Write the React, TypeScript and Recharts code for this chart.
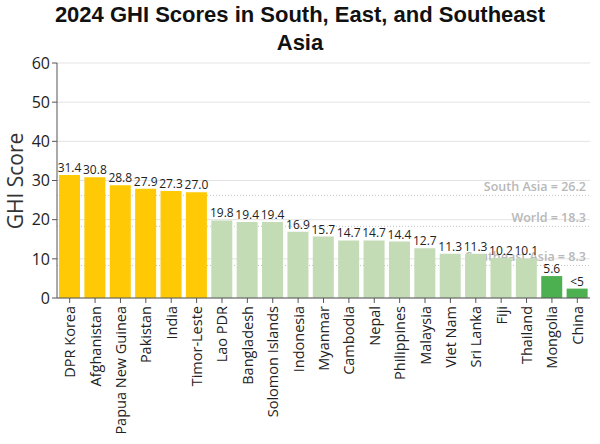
import React from "react";
import { BarChart, Bar, XAxis, YAxis, CartesianGrid, ReferenceLine, LabelList, Cell } from "recharts";

const countries = [
  "DPR Korea", "Afghanistan", "Papua New Guinea", "Pakistan", "India", "Timor-Leste",
  "Lao PDR", "Bangladesh", "Solomon Islands", "Indonesia", "Myanmar", "Cambodia", "Nepal",
  "Philippines", "Malaysia", "Viet Nam", "Sri Lanka", "Fiji", "Thailand", "Mongolia", "China",
];
const scores = [31.4, 30.8, 28.8, 27.9, 27.3, 27.0, 19.8, 19.4, 19.4, 16.9, 15.7, 14.7, 14.7, 14.4, 12.7, 11.3, 11.3, 10.2, 10.1, 5.6, 2.4];
const scoreLabels = ["31.4", "30.8", "28.8", "27.9", "27.3", "27.0", "19.8", "19.4", "19.4", "16.9", "15.7", "14.7", "14.7", "14.4", "12.7", "11.3", "11.3", "10.2", "10.1", "5.6", "<5"];
const tiers = ["serious", "serious", "serious", "serious", "serious", "serious",
  "moderate", "moderate", "moderate", "moderate", "moderate", "moderate", "moderate",
  "moderate", "moderate", "moderate", "moderate", "moderate", "moderate", "low", "low"];
const yTicks = [0, 10, 20, 30, 40, 50, 60];
const refNames = ["South Asia", "World", "Southeast Asia"];
const refValues = [26.2, 18.3, 8.3];

const tierColor: Record<string, string> = {
  serious: "#ffc905",
  moderate: "#c3dcb6",
  low: "#4caf50",
};

const data = countries.map((name, i) => ({ name, score: scores[i], label: scoreLabels[i], tier: tiers[i] }));

const CountryTick = (props: any) => {
  const { x, y, payload } = props;
  return (
    <text
      x={x}
      y={y + 1}
      transform={`rotate(-90, ${x}, ${y + 1})`}
      textAnchor="end"
      dominantBaseline="central"
      fontFamily="'Open Sans', sans-serif"
      fontSize={14.5}
      fill="#222"
    >
      {payload.value}
    </text>
  );
};

const refLabel = (i: number) => ({
  value: `${refNames[i]} = ${refValues[i]}`,
  position: "insideBottomRight",
  offset: 4,
  fill: "#b8b8b8",
  fontSize: 12.5,
  fontWeight: 600,
  fontFamily: "'Open Sans', sans-serif",
  zIndex: 0,
});

export default function App() {
  return (
    <div style={{ position: "fixed", left: 0, top: 0, width: 600, height: 444, background: "#fff" }}>
      <div
        style={{
          position: "absolute",
          left: 0,
          top: 1,
          width: 600,
          textAlign: "center",
          fontFamily: "'Liberation Sans', Arial, sans-serif",
          fontWeight: "bold",
          fontSize: 22,
          lineHeight: "28px",
          color: "#111",
        }}
      >
        2024 GHI Scores in South, East, and Southeast
        <br />
        Asia
      </div>
      <div
        style={{
          position: "absolute",
          left: 15,
          top: 181,
          transform: "translate(-50%, -50%) rotate(-90deg)",
          fontFamily: "'Open Sans', sans-serif",
          fontSize: 21,
          color: "#333",
          whiteSpace: "nowrap",
        }}
      >
        GHI Score
      </div>
      <BarChart
        width={600}
        height={444}
        data={data}
        margin={{ top: 63, right: 10, left: 0, bottom: 0 }}
        barCategoryGap={2}
      >
        <CartesianGrid vertical={false} stroke="#e3e3e3" />
        {refValues.map((v, i) => (
          <ReferenceLine
            key={refNames[i]}
            y={v}
            stroke="#c4c4c4"
            strokeDasharray="1 2"
            zIndex={0}
            label={refLabel(i) as any}
          />
        ))}
        <XAxis
          dataKey="name"
          interval={0}
          tick={<CountryTick />}
          tickSize={5}
          stroke="#555"
          height={146}
        />
        <YAxis
          domain={[0, 60]}
          ticks={yTicks}
          width={57}
          tickSize={5}
          stroke="#555"
          tick={{ fill: "#222", fontSize: 16, fontFamily: "'Open Sans', sans-serif" }}
        />
        <Bar dataKey="score" isAnimationActive={false}>
          {data.map((d) => (
            <Cell key={d.name} fill={tierColor[d.tier]} />
          ))}
          <LabelList
            dataKey="label"
            position="top"
            offset={3}
            fill="#222"
            fontSize={12}
            fontFamily="'Open Sans', sans-serif"
          />
        </Bar>
      </BarChart>
    </div>
  );
}
